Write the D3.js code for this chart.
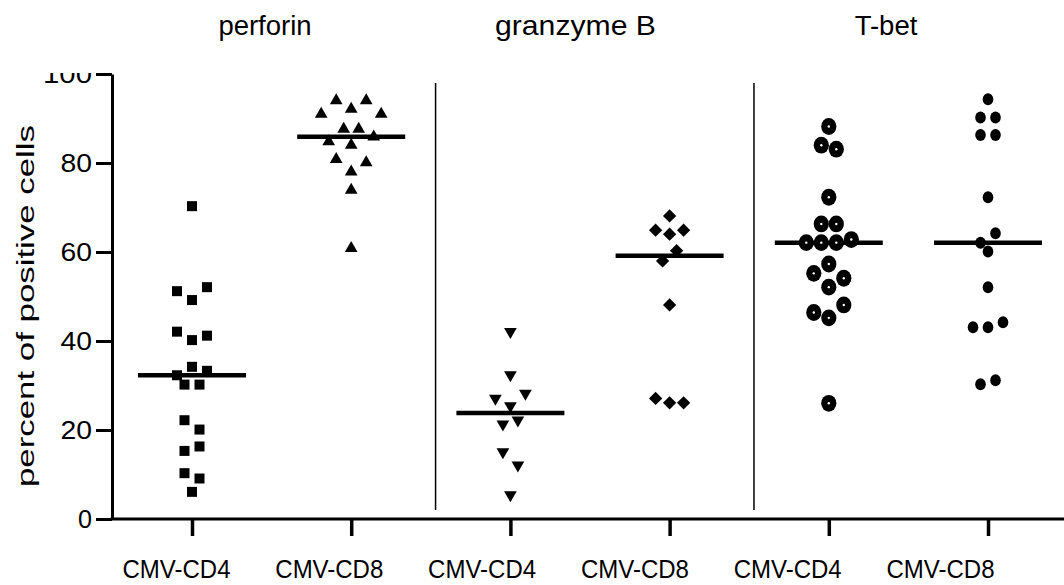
<!DOCTYPE html>
<html><head><meta charset="utf-8">
<script src="https://cdn.jsdelivr.net/npm/d3@7"></script>
<style>
html,body{margin:0;padding:0;background:#fff;}
svg{display:block;font-family:"Liberation Sans",Arial,sans-serif;}
</style>
</head><body>
<svg id="chart" width="1064" height="585"></svg>
<script>
// ---------------- data ----------------
const markers = ["perforin", "granzyme B", "T-bet"];
const cellTypes = ["CMV-CD4", "CMV-CD8"];
const perforinCD4 = [70.3, 51.2, 49.2, 52.1, 42.1, 40.2, 41.2, 32.3, 34.2, 33.3, 30.2, 30.2, 22.2, 20.1, 15.3, 16.3, 10.3, 9.1, 6.1];
const perforinCD8 = [91.0, 94.0, 92.1, 94.0, 91.0, 84.8, 87.6, 87.6, 85.9, 84.0, 80.8, 78.0, 80.1, 73.9, 60.8];
const granzymeCD4 = [42.1, 32.4, 27.1, 25.4, 28.2, 21.3, 22.2, 15.1, 12.1, 5.4];
const granzymeCD8 = [68.1, 64.9, 64.0, 64.9, 58.0, 60.3, 48.1, 27.1, 26.1, 26.1];
const tbetCD4 = [88.2, 84.0, 83.1, 72.3, 66.3, 66.3, 62.1, 62.1, 62.1, 62.8, 55.2, 57.3, 54.1, 52.1, 46.4, 45.2, 48.1, 26.0];
const tbetCD8 = [94.3, 90.2, 90.2, 86.3, 86.3, 72.3, 62.1, 64.2, 60.1, 52.1, 43.1, 43.1, 44.2, 30.3, 31.2];
const yTicks = [0, 20, 40, 60, 80, 100];
const yTitle = "percent of positive cells";

// table built from the arrays (style per column)
const series = [
  {marker: markers[0], cell: cellTypes[0], values: perforinCD4, shape: "square",   bin: 14,   step: 15},
  {marker: markers[0], cell: cellTypes[1], values: perforinCD8, shape: "triUp",    bin: 13.8, step: 15},
  {marker: markers[1], cell: cellTypes[0], values: granzymeCD4, shape: "triDown",  bin: 13.8, step: 15},
  {marker: markers[1], cell: cellTypes[1], values: granzymeCD8, shape: "diamond",  bin: 13,   step: 14},
  {marker: markers[2], cell: cellTypes[0], values: tbetCD4,     shape: "ring",     bin: 15,   step: 15},
  {marker: markers[2], cell: cellTypes[1], values: tbetCD8,     shape: "dot",      bin: 11,   step: 15}
];
series.forEach(s => s.key = s.marker + "|" + s.cell);

// ---------------- layout ----------------
const svg = d3.select("#chart");
const axisX = 112, axisY = 519;
const y = d3.scaleLinear().domain([0, 100]).range([axisY, 74]);
const x = d3.scalePoint().domain(series.map(s => s.key)).range([192, 988]);
const xLab = d3.scalePoint().domain(series.map(s => s.key)).range([176, 940]);
const xTitle = d3.scalePoint().domain(markers).range([265, 886]);

// column-scatter layout: rows of nearby values centred on the column
function swarm(s) {
  const pts = s.values.map((v, i) => ({v, i, py: y(v)}));
  const sorted = pts.slice().sort((a, b) => a.py - b.py || a.i - b.i);
  const rows = [];
  let cur = null;
  sorted.forEach(p => {
    if (!cur || p.py - cur.start >= s.bin) { cur = {start: p.py, pts: []}; rows.push(cur); }
    cur.pts.push(p);
  });
  rows.forEach(r => {
    r.pts.sort((a, b) => a.i - b.i);
    const n = r.pts.length;
    r.pts.forEach((p, k) => p.dx = (k - (n - 1) / 2) * s.step);
  });
  return pts;
}

// title text
svg.append("g").selectAll("text").data(markers).join("text")
  .attr("x", d => xTitle(d)).attr("y", 35)
  .attr("text-anchor", "middle")
  .attr("font-size", 27.5)
  .attr("fill", "#000")
  .each(function(d) { if (d === "granzyme B") d3.select(this).attr("textLength", 161).attr("lengthAdjust", "spacingAndGlyphs"); })
  .text(d => d);

// separators between markers
const step = x.step();
[series[2].key, series[4].key].forEach(k => {
  svg.append("line")
    .attr("x1", x(k) - 0.47 * step).attr("x2", x(k) - 0.47 * step)
    .attr("y1", 83).attr("y2", 510)
    .attr("stroke", "#000").attr("stroke-width", 1.5);
});

// y axis (clipped at top like the reference)
svg.append("clipPath").attr("id", "yclip").append("rect")
  .attr("x", 0).attr("y", 73).attr("width", 200).attr("height", 600);
const gy = svg.append("g").attr("clip-path", "url(#yclip)")
  .append("g").attr("transform", `translate(${axisX},0)`)
  .call(d3.axisLeft(y).tickValues(yTicks).tickSize(16).tickSizeOuter(0).tickPadding(4));
gy.select(".domain").attr("stroke", "#000").attr("stroke-width", 3);
gy.selectAll(".tick line").attr("stroke", "#000").attr("stroke-width", 3);
gy.selectAll(".tick text")
  .attr("font-size", 26).attr("fill", "#000")
  .attr("font-family", "'Liberation Sans',Arial,sans-serif")
  .each(function(d) {
    const n = String(d).length;
    d3.select(this).attr("textLength", 14 * n + 3.5 * (n - 1)).attr("lengthAdjust", "spacingAndGlyphs");
  });

// y title
svg.append("text")
  .attr("transform", `translate(34,306) rotate(-90)`)
  .attr("text-anchor", "middle")
  .attr("font-size", 23)
  .attr("textLength", 362).attr("lengthAdjust", "spacingAndGlyphs")
  .attr("fill", "#000")
  .text(yTitle);

// x axis line
svg.append("line")
  .attr("x1", axisX - 1.5).attr("x2", 1064)
  .attr("y1", axisY).attr("y2", axisY)
  .attr("stroke", "#000").attr("stroke-width", 3);

// x ticks
const gx = svg.append("g").attr("transform", `translate(0,${axisY})`)
  .call(d3.axisBottom(x).tickSize(17).tickFormat(""));
gx.select(".domain").remove();
gx.selectAll(".tick line").attr("stroke", "#000").attr("stroke-width", 3.5);

// x labels
const gxl = svg.append("g").attr("transform", `translate(0,${axisY})`)
  .call(d3.axisBottom(xLab).tickSize(0).tickFormat(k => k.split("|")[1]));
gxl.select(".domain").remove();
gxl.selectAll(".tick text")
  .attr("y", 59).attr("dy", null)
  .attr("font-size", 25.5).attr("fill", "#000")
  .attr("font-family", "'Liberation Sans',Arial,sans-serif")
  .attr("textLength", 108).attr("lengthAdjust", "spacingAndGlyphs");

// median lines
svg.append("g").selectAll("line").data(series).join("line")
  .attr("x1", d => x(d.key) - 54).attr("x2", d => x(d.key) + 54)
  .attr("y1", d => y(d3.median(d.values))).attr("y2", d => y(d3.median(d.values)))
  .attr("stroke", "#000").attr("stroke-width", 4.5);

// points
const sq = d3.symbol().type(d3.symbolSquare).size(100)();
const tri = d3.symbol().type(d3.symbolTriangle).size(70)();
const dia = d3.symbol().type(d3.symbolSquare).size(88)();
series.forEach(s => {
  const g = svg.append("g");
  const pts = swarm(s);
  const sel = g.selectAll("g.pt").data(pts).join("g").attr("class", "pt")
    .attr("transform", p => `translate(${x(s.key) + p.dx},${p.py})`);
  if (s.shape === "square") sel.append("path").attr("d", sq).attr("fill", "#000");
  if (s.shape === "triUp") sel.append("path").attr("d", tri).attr("fill", "#000");
  if (s.shape === "triDown") sel.append("path").attr("d", tri).attr("transform", "rotate(180)").attr("fill", "#000");
  if (s.shape === "diamond") sel.append("path").attr("d", dia).attr("transform", "rotate(45)").attr("fill", "#000");
  if (s.shape === "ring") {
    sel.append("ellipse").attr("rx", 7.6).attr("ry", 8.4).attr("fill", "#000");
    sel.append("circle").attr("r", 1.2).attr("fill", "#fff");
  }
  if (s.shape === "dot") sel.append("ellipse").attr("rx", 5.3).attr("ry", 6).attr("fill", "#000");
});
</script>
</body></html>
